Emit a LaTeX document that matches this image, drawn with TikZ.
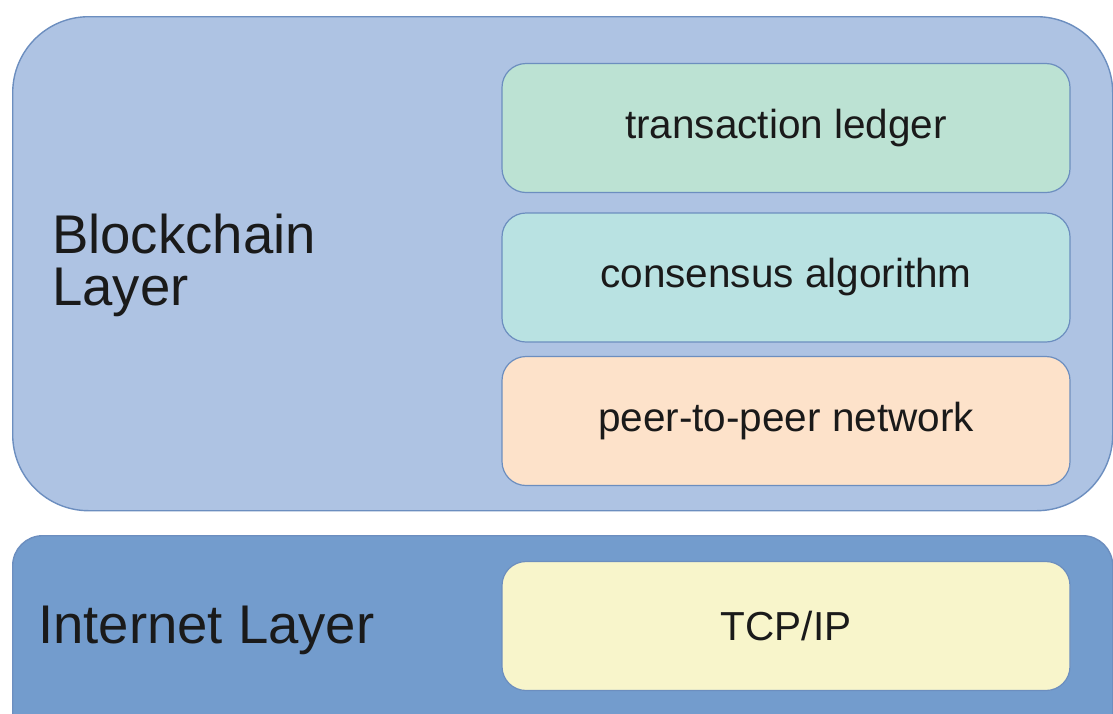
\documentclass[tikz,border=0pt]{standalone}
\usepackage{fontspec}
\setmainfont{Liberation Sans}
\usetikzlibrary{positioning}
\definecolor{chainblue}{HTML}{AEC3E3}
\definecolor{netblue}{HTML}{739CCD}
\definecolor{edgeblue}{HTML}{6C8EBF}
\definecolor{ledgergreen}{HTML}{BCE2D3}
\definecolor{consensuscyan}{HTML}{B9E2E2}
\definecolor{peerorange}{HTML}{FDE2CA}
\definecolor{tcpyellow}{HTML}{F8F5CB}
\definecolor{inkgray}{HTML}{1A1A1A}

\begin{document}
\begin{tikzpicture}[x=1pt,y=-1pt,
	layerbox/.style={draw=edgeblue,line width=1.4pt,anchor=north west,inner sep=0pt},
	partbox/.style={draw=edgeblue,line width=1.2pt,rounded corners=24pt,minimum width=568pt,minimum height=129pt,inner sep=0pt,text=inkgray,font=\fontsize{40.5}{44}\selectfont}]
	\useasboundingbox (0,0) rectangle (1113,713);
	\clip (0,0) rectangle (1113,713);
	\node[layerbox,fill=chainblue,rounded corners=76pt,minimum width=1100pt,minimum height=494pt] (chain) at (12,16) {};
	\node[layerbox,fill=netblue,rounded corners=30pt,minimum width=1100pt,minimum height=210pt] (net) at (12,535) {};
	\node[partbox,fill=ledgergreen] (ledger) at (786,128) {transaction ledger};
	\node[partbox,fill=consensuscyan] (consensus) at (786,277.5) {consensus algorithm};
	\node[partbox,fill=peerorange] (peer) at (786,421) {peer-to-peer network};
	\node[partbox,fill=tcpyellow] (tcp) at (786,626) {TCP/IP};
	\node[anchor=west,inner sep=0pt,align=left,text=inkgray,font=\fontsize{54.5}{52}\selectfont] (chainlabel) at (52,265) {Blockchain\\Layer};
	\node[anchor=base west,inner sep=0pt,text=inkgray,font=\fontsize{54.5}{52}\selectfont] (netlabel) at (38,643) {Internet Layer};
\end{tikzpicture}
\end{document}
